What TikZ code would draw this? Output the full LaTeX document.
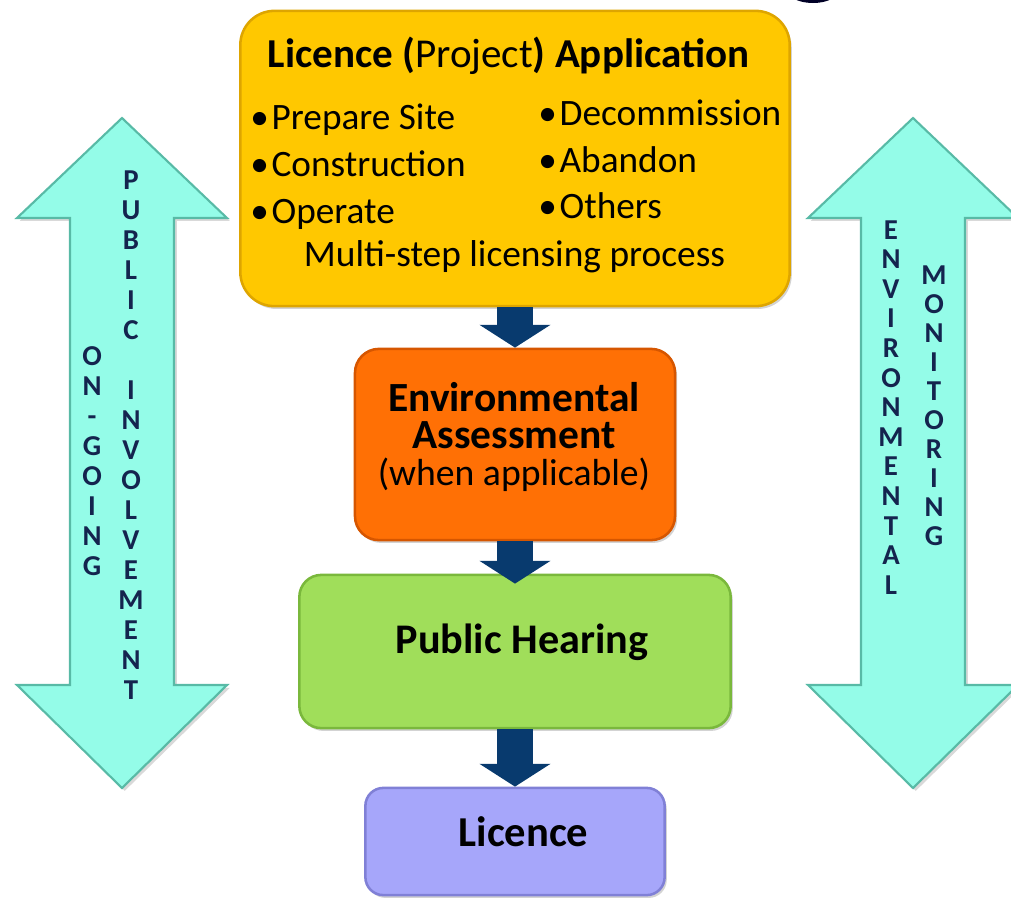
\documentclass[tikz,border=0pt]{standalone}
\usepackage{fontspec}
\setmainfont{Carlito}
\usetikzlibrary{arrows.meta,shadows}

\definecolor{appfill}{RGB}{255,200,0}
\definecolor{appline}{RGB}{222,165,0}
\definecolor{eafill}{RGB}{255,112,5}
\definecolor{ealine}{RGB}{214,86,0}
\definecolor{phfill}{RGB}{160,222,90}
\definecolor{phline}{RGB}{122,184,60}
\definecolor{licfill}{RGB}{166,166,250}
\definecolor{licline}{RGB}{128,128,214}
\definecolor{aqua}{RGB}{148,252,232}
\definecolor{aqualine}{RGB}{88,186,166}
\definecolor{flownavy}{RGB}{8,58,110}
\definecolor{lettnavy}{RGB}{20,36,78}

\tikzset{
  box/.style={draw, line width=1.8pt, inner sep=0pt,
    drop shadow={shadow xshift=1.5pt, shadow yshift=-2pt, opacity=.35}},
  flow/.style={flownavy, line width=0.9cm,
    -{Triangle[width=1.75cm, length=0.57cm]}},
  sidearrow/.style={fill=aqua, draw=aqualine, line width=1.5pt, line join=miter,
    drop shadow={shadow xshift=2pt, shadow yshift=-2pt, opacity=.3}},
  letter/.style={anchor=base, text=lettnavy, inner sep=0pt,
    font=\fontsize{20.5}{24}\selectfont\bfseries,
    text height=13.5pt, text depth=0pt},
  item/.style={anchor=base west, inner sep=0pt, font=\fontsize{26.5}{30}\selectfont},
  boxtext/.style={anchor=base, inner sep=0pt},
}

% double headed block arrow, #1 = x of its axis
\newcommand{\twoway}[1]{%
  \draw[sidearrow] (#1,118) -- (#1+105,218) -- (#1+52,218) -- (#1+52,685)
    -- (#1+105,685) -- (#1,788) -- (#1-105,685) -- (#1-52,685)
    -- (#1-52,218) -- (#1-105,218) -- cycle;}

\begin{document}
\begin{tikzpicture}[x=0.025cm, y=-0.025cm]
\useasboundingbox (0,0) rectangle (1011,897);

% logo edge peeking in at the top
\fill[black!85!blue] (813,-18) ellipse [x radius=32, y radius=21];

% side arrows
\twoway{122}
\twoway{913}

% letters stand on their baselines, 9px under the letter middle
\foreach \ch [count=\i from 0] in {P,U,B,L,I,C,{},I,N,V,O,L,V,E,M,E,N,T}
  \node[letter] (pub-\i) at (131,189+30*\i) {\ch};
\foreach \ch [count=\i from 0] in {O,N,-,G,O,I,N,G}
  \node[letter] (ong-\i) at (92,365+30*\i) {\ch};
\foreach \ch [count=\i from 0] in {E,N,V,I,R,O,N,M,E,N,T,A,L}
  \node[letter] (env-\i) at (891,239+29.6*\i) {\ch};
\foreach \ch [count=\i from 0] in {M,O,N,I,T,O,R,I,N,G}
  \node[letter] (mon-\i) at (934,284+29.1*\i) {\ch};

% process boxes
\node[box, fill=appfill, draw=appline, rounded corners=0.85cm,
  minimum width=13.73cm, minimum height=7.38cm] (app) at (515,158.5) {};
\node[box, fill=eafill, draw=ealine, rounded corners=0.6cm,
  minimum width=8cm, minimum height=4.78cm] (ea) at (515,444.5) {};
\node[box, fill=phfill, draw=phline, rounded corners=0.55cm,
  minimum width=10.78cm, minimum height=3.83cm] (hearing) at (515,651.5) {};
\node[box, fill=licfill, draw=licline, rounded corners=0.45cm,
  minimum width=7.48cm, minimum height=2.68cm] (lic) at (515,841.5) {};

% connectors
\draw[flow] (app.south) -- (ea.north);
\draw[flow, shorten >=-0.25cm] (ea.south) -- (hearing.north);
\draw[flow] (hearing.south) -- (lic.north);

% box texts
\node[boxtext, font=\fontsize{29.2}{34}\selectfont] (apptitle)
  at (508.5,67) {\bfseries Licence (\mdseries Project\bfseries) Application};
\node[item] (i1) at (250,129) {\textbullet\hspace{2pt}Prepare Site};
\node[item] (i2) at (250,176) {\textbullet\hspace{2pt}Construction};
\node[item] (i3) at (250,223) {\textbullet\hspace{2pt}Operate};
\node[item] (i4) at (538,125) {\textbullet\hspace{2pt}Decommission};
\node[item] (i5) at (538,172) {\textbullet\hspace{2pt}Abandon};
\node[item] (i6) at (538,218) {\textbullet\hspace{2pt}Others};
\node[boxtext, font=\fontsize{26.6}{30}\selectfont] (multi)
  at (514.5,266) {Multi-step licensing process};

\node[anchor=north, inner sep=0pt, align=center,
  font=\fontsize{29.5}{26.3}\selectfont\bfseries] (eatitle)
  at (514,382) {Environmental\\Assessment};
\node[boxtext, font=\fontsize{26.8}{30}\selectfont,
  text height=18pt] (ea3) at (514,485) {(when applicable)};
\node[boxtext, font=\fontsize{30}{34}\selectfont\bfseries]
  (phtext) at (522,653) {Public Hearing};
\node[boxtext, font=\fontsize{30.3}{36}\selectfont\bfseries]
  (lictext) at (523.5,846) {Licence};
\end{tikzpicture}
\end{document}
